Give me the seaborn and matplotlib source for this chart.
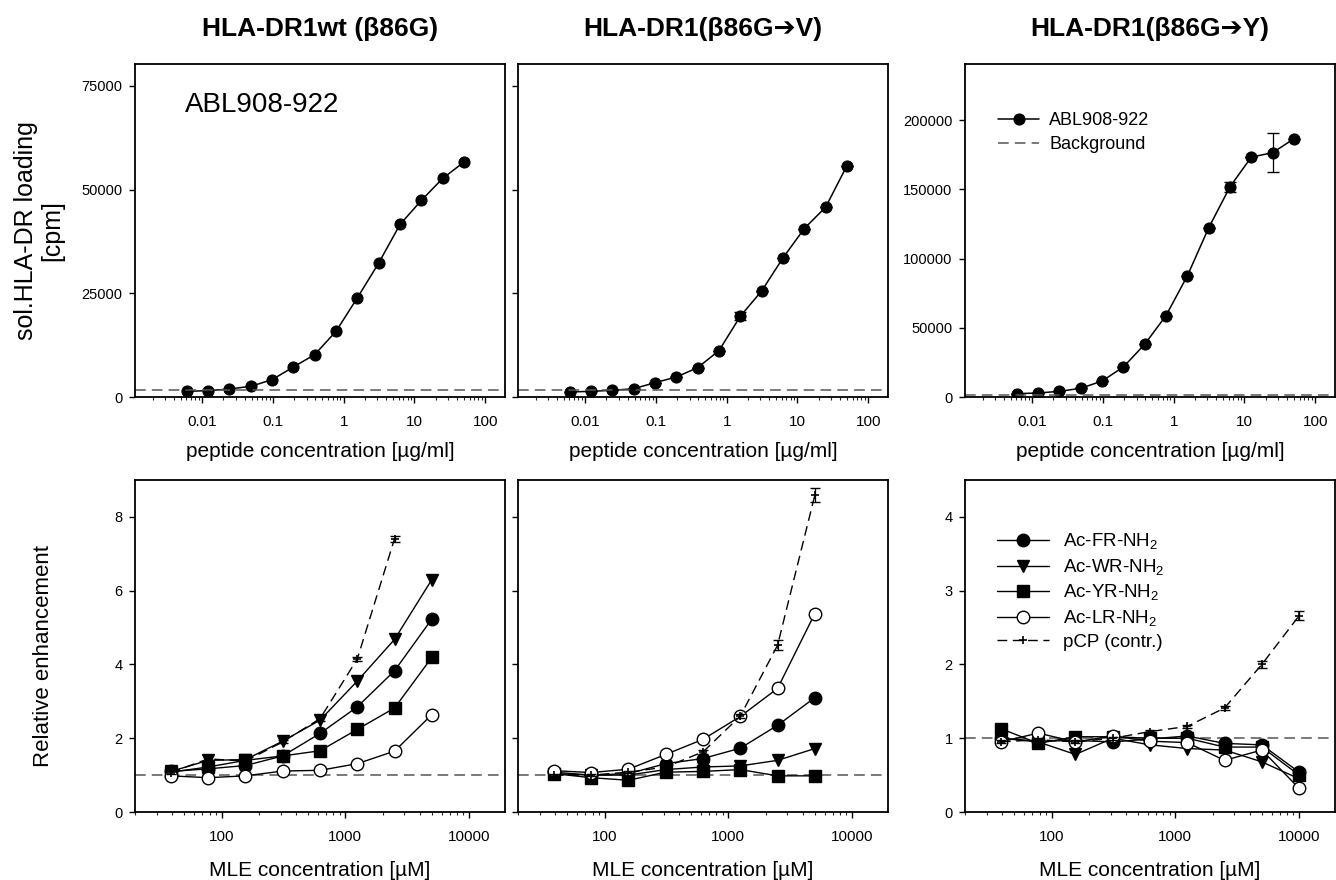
import numpy as np
import pandas as pd
import matplotlib
matplotlib.use("Agg")
import matplotlib.pyplot as plt
import seaborn as sns

# peptide titration (top row)
pep_conc = [0.0061, 0.0122, 0.0244, 0.0488, 0.0977, 0.195, 0.39, 0.78, 1.56, 3.125, 6.25, 12.5, 25, 50]
cpm_wt = [1370, 1530, 1930, 2580, 4180, 7240, 10220, 15850, 23900, 32300, 41600, 47400, 52700, 56650]
cpm_v = [1210, 1370, 1610, 2010, 3460, 4830, 7080, 11190, 19470, 25580, 33550, 40630, 45780, 55770]
cpm_y = [2410, 2890, 4100, 6270, 11570, 21690, 38080, 58800, 87480, 122190, 151830, 173280, 176420, 186530]
err_v = [0, 0, 0, 0, 0, 0, 0, 0, 1000, 0, 0, 0, 0, 0]
err_y = [0, 0, 0, 0, 0, 0, 0, 0, 0, 0, 3500, 0, 14000, 0]
bg_cpm = [1800, 1600, 1500]

# MLE titration (bottom row)
mle = [39, 78, 156, 312, 625, 1250, 2500, 5000, 10000]
wt = {
    "FR": [1.10, 1.17, 1.26, 1.52, 2.13, 2.85, 3.83, 5.23],
    "WR": [1.10, 1.40, 1.42, 1.92, 2.49, 3.55, 4.68, 6.30],
    "YR": [1.08, 1.22, 1.40, 1.52, 1.66, 2.24, 2.82, 4.19],
    "LR": [0.98, 0.93, 0.98, 1.11, 1.13, 1.31, 1.65, 2.64],
    "pCP": [1.07, 1.44, 1.38, 1.90, 2.53, 4.15, 7.41],
}
wt_err = [0.03, 0.08, 0.04, 0.04, 0.07, 0.06, 0.08]
v86 = {
    "FR": [1.08, 1.00, 1.04, 1.31, 1.45, 1.73, 2.35, 3.10],
    "WR": [1.04, 1.00, 1.00, 1.15, 1.22, 1.25, 1.40, 1.72],
    "YR": [1.04, 0.93, 0.86, 1.08, 1.10, 1.15, 0.98, 0.98],
    "LR": [1.12, 1.07, 1.16, 1.56, 1.97, 2.59, 3.35, 5.38],
    "pCP": [1.00, 1.00, 1.08, 1.22, 1.63, 2.60, 4.52, 8.59],
}
v86_err = [0.03, 0.03, 0.03, 0.04, 0.05, 0.05, 0.13, 0.18]
y86 = {
    "FR": [1.00, 0.96, 0.97, 0.95, 0.99, 1.03, 0.93, 0.91, 0.54],
    "WR": [1.00, 0.95, 0.78, 1.00, 0.91, 0.86, 0.84, 0.68, 0.45],
    "YR": [1.13, 0.93, 1.02, 1.02, 1.00, 1.00, 0.88, 0.88, 0.50],
    "LR": [0.95, 1.07, 0.95, 1.03, 0.96, 0.94, 0.70, 0.84, 0.32],
    "pCP": [0.95, 0.98, 0.95, 1.00, 1.09, 1.16, 1.41, 2.00, 2.66],
}
y86_err = [0.02, 0.02, 0.02, 0.02, 0.02, 0.02, 0.03, 0.05, 0.06]

titles = ["HLA-DR1wt (β86G)", "HLA-DR1(β86G➔V)", "HLA-DR1(β86G➔Y)"]
labels = {"FR": "Ac-FR-NH$_2$", "WR": "Ac-WR-NH$_2$", "YR": "Ac-YR-NH$_2$",
          "LR": "Ac-LR-NH$_2$", "pCP": "pCP (contr.)"}
styles = {
    "FR": dict(marker="o", markerfacecolor="black"),
    "WR": dict(marker="v", markerfacecolor="black"),
    "YR": dict(marker="s", markerfacecolor="black"),
    "LR": dict(marker="o", markerfacecolor="white"),
}

sns.set_theme(style="ticks")
plt.rcParams["font.family"] = ["Liberation Sans", "DejaVu Sans"]
plt.rcParams["mathtext.fontset"] = "custom"
plt.rcParams["mathtext.rm"] = "Liberation Sans"
plt.rcParams["text.color"] = "black"
plt.rcParams["axes.labelcolor"] = "black"

fig = plt.figure(figsize=(13.36, 8.8), dpi=100)
W, H = 1336, 880
lefts = [135, 518, 965]
aw = 370

def axrect(x0, y_top, y_bot):
    return [x0 / W, 1 - y_bot / H, aw / W, (y_bot - y_top) / H]

dash = (0, (7, 4))

def style_axes(ax, labels_on=True):
    for s in ax.spines.values():
        s.set_linewidth(1.3)
        s.set_color("black")
    ax.tick_params(axis="both", which="major", direction="out", length=4, width=1,
                   labelsize=10.5, colors="black")
    ax.tick_params(axis="x", which="major", pad=9, labelsize=11)
    ax.tick_params(axis="y", which="major", pad=5)
    ax.tick_params(axis="x", which="minor", direction="out", length=2.5, width=0.8)
    if not labels_on:
        ax.tick_params(axis="y", labelleft=False)

# top row
top_sets = [(cpm_wt, None), (cpm_v, err_v), (cpm_y, err_y)]
for i, (vals, err) in enumerate(top_sets):
    ax = fig.add_axes(axrect(lefts[i], 64, 397))
    df = pd.DataFrame({"conc": pep_conc, "cpm": vals})
    sns.lineplot(data=df, x="conc", y="cpm", ax=ax, color="black", lw=1.1,
                 marker="o", markersize=8, markerfacecolor="black",
                 markeredgecolor="black", label="ABL908-922", legend=False)
    if err is not None:
        ax.errorbar(pep_conc, vals, yerr=err, fmt="none", ecolor="black",
                    elinewidth=0.9, capsize=4)
    ax.axhline(bg_cpm[i], color="#555555", lw=1.1, ls=dash, label="Background")
    ax.set_xscale("log")
    ax.set_xlim(0.00113, 190)
    ax.set_xticks([0.01, 0.1, 1, 10, 100])
    ax.set_xticklabels(["0.01", "0.1", "1", "10", "100"])
    ax.set_xlabel("peptide concentration [µg/ml]", fontsize=15, labelpad=9)
    ax.set_title(titles[i], fontsize=19, fontweight="bold", pad=20)
    if i < 2:
        ax.set_ylim(0, 80300)
        ax.set_yticks([0, 25000, 50000, 75000])
        style_axes(ax, labels_on=(i == 0))
    else:
        ax.set_ylim(0, 240500)
        ax.set_yticks([0, 50000, 100000, 150000, 200000])
        style_axes(ax)
        ax.legend(loc="upper left", bbox_to_anchor=(0.045, 0.905), frameon=False,
                  fontsize=13, handlelength=2.3, labelspacing=0.4,
                  handletextpad=0.55)
    if i == 0:
        ax.set_ylabel("sol.HLA-DR loading\n[cpm]", fontsize=18, linespacing=1.15)
        ax.yaxis.set_label_coords(-0.19, 0.5)
        ax.text(0.135, 0.877, "ABL908-922", transform=ax.transAxes, fontsize=20,
                va="center")
    else:
        ax.set_ylabel("")

# bottom row
bot_sets = [(wt, wt_err, 9.0), (v86, v86_err, 9.0), (y86, y86_err, 4.5)]
for i, (sets, perr, ytop) in enumerate(bot_sets):
    ax = fig.add_axes(axrect(lefts[i], 480, 812))
    ax.axhline(1, color="#555555", lw=1.1, ls=dash)
    for key in ["FR", "WR", "YR", "LR"]:
        vals = sets[key]
        df = pd.DataFrame({"mle": mle[:len(vals)], "rel": vals})
        sns.lineplot(data=df, x="mle", y="rel", ax=ax, color="black", lw=1.0,
                     markersize=9, markeredgecolor="black", markeredgewidth=1.0,
                     label=labels[key], legend=False, **styles[key])
    pv = sets["pCP"]
    df = pd.DataFrame({"mle": mle[:len(pv)], "rel": pv})
    sns.lineplot(data=df, x="mle", y="rel", ax=ax, color="black", lw=1.0,
                 ls=dash, marker="+", markersize=6, markeredgecolor="black",
                 markeredgewidth=1.2, label=labels["pCP"], legend=False)
    ax.errorbar(mle[:len(pv)], pv, yerr=perr, fmt="none", ecolor="black",
                elinewidth=0.9, capsize=3.5)
    ax.set_xscale("log")
    ax.set_xlim(20, 19500)
    ax.set_xticks([100, 1000, 10000])
    ax.set_xticklabels(["100", "1000", "10000"])
    ax.set_ylim(0, ytop)
    ax.set_xlabel("MLE concentration [µM]", fontsize=15, labelpad=12)
    if i < 2:
        ax.set_yticks([0, 2, 4, 6, 8])
        style_axes(ax, labels_on=(i == 0))
    else:
        ax.set_yticks([0, 1, 2, 3, 4])
        style_axes(ax)
        ax.legend(loc="upper left", bbox_to_anchor=(0.04, 0.895), frameon=False,
                  fontsize=13.5, handlelength=2.8, labelspacing=0.28,
                  handletextpad=0.75)
    if i == 0:
        ax.set_ylabel("Relative enhancement", fontsize=16)
        ax.yaxis.set_label_coords(-0.218, 0.47)
    else:
        ax.set_ylabel("")

fig.savefig("out.png", dpi=100)
